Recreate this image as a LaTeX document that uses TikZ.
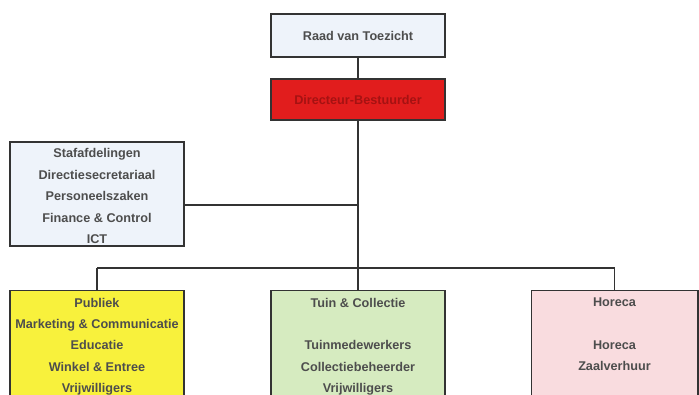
\documentclass[tikz,border=0pt]{standalone}
\usepackage{fontspec}
\setmainfont{Liberation Sans}
\definecolor{boxline}{HTML}{333333}
\definecolor{txtgray}{HTML}{4D4D4D}
\definecolor{lightblue}{HTML}{EEF3FA}
\definecolor{dirred}{HTML}{E11D1D}
\definecolor{dirtext}{HTML}{A51212}
\definecolor{publiekgeel}{HTML}{F8F13C}
\definecolor{tuingroen}{HTML}{D6EBC0}
\definecolor{horecaroze}{HTML}{F9DCDF}
\begin{document}
\begin{tikzpicture}[
        x=0.75pt, y=-0.75pt,
        every node/.style={shape=rectangle, draw=boxline, line width=1pt, align=center, text=txtgray,
            font=\fontsize{9.5}{16.1}\selectfont\bfseries, minimum width=130.5pt},
        unit/.style={fill=lightblue},
        toprow/.style={anchor=north, inner ysep=5.4pt},
        link/.style={draw=boxline, line width=1pt}
    ]
        \useasboundingbox (0,0) rectangle (699,394);
        \clip (0,0) rectangle (699,394);

        \node[unit, minimum height=32.25pt] (rvt) at (358,35.5) {Raad van Toezicht};
        \node[fill=dirred, text=dirtext, minimum height=30.75pt] (dir) at (358,99.5) {Directeur-Bestuurder};
        \node[unit, minimum height=78pt, inner ysep=1pt] (staf) at (97,194)
            {\rule{0pt}{10pt}Stafafdelingen\\Directiesecretariaal\\Personeelszaken\\Finance \& Control\\ICT};

        \node[toprow, fill=publiekgeel] (publiek) at (97,290)
            {Publiek\\Marketing \& Communicatie\\Educatie\\Winkel \& Entree\\Vrijwilligers\\ \strut};
        \node[toprow, fill=tuingroen] (tuin) at (358,290)
            {Tuin \& Collectie\\ \strut\\Tuinmedewerkers\\Collectiebeheerder\\Vrijwilligers\\ \strut};
        \node[toprow, fill=horecaroze, minimum width=125pt] (horeca) at (614.5,290)
            {Horeca\\ \strut\\Horeca\\Zaalverhuur\\ \strut\\ \strut};

        \coordinate (stafjoin) at (358,205);
        \coordinate (bus) at (358,268);

        \draw[link] (rvt) -- (dir);
        \draw[link] (dir) -- (bus);
        \draw[link] (stafjoin) -- (stafjoin -| staf.east);
        \draw[link] (publiek.north |- bus) -- (horeca.north |- bus);
        \draw[link] (publiek.north |- bus) -- (publiek.north);
        \draw[link] (bus) -- (tuin.north);
        \draw[link] (horeca.north |- bus) -- (horeca.north);
\end{tikzpicture}
\end{document}
